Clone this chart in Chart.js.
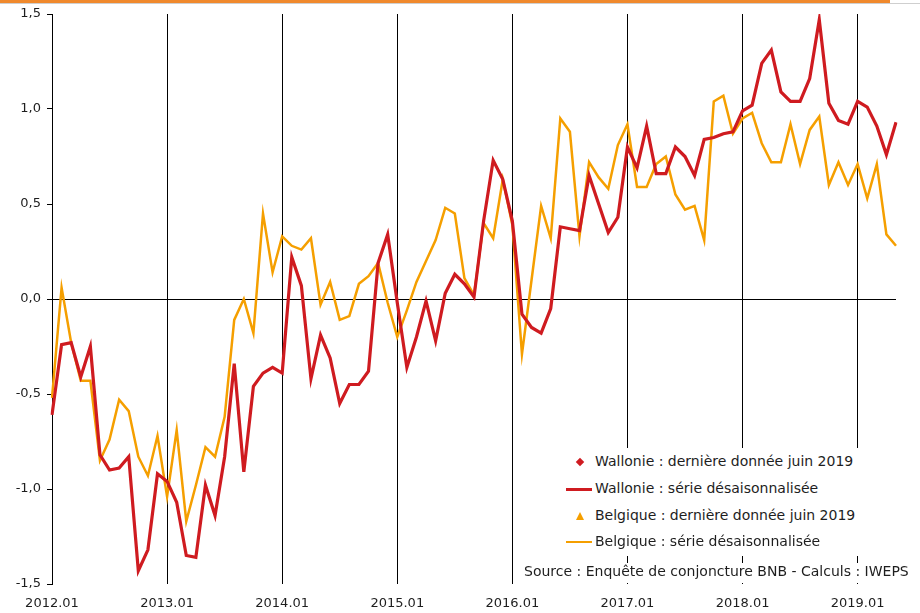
<!DOCTYPE html>
<html>
<head>
<meta charset="utf-8">
<script src="https://cdn.jsdelivr.net/npm/chart.js@4.4.1/dist/chart.umd.min.js"></script>
<style>
  body { margin: 0; background: #fff; font-family: "DejaVu Sans", sans-serif; }
  #wrap { position: relative; width: 920px; height: 613px; }
  #topbar { position: absolute; left: 0; top: 0; width: 890px; height: 3px; background: #f0892c; }
  #topline { position: absolute; left: 0; top: 3px; width: 920px; height: 1px; background: #cfcfcf; }
  #legend { position: absolute; left: 555px; top: 448px; width: 360px; height: 108px; background: #fff; }
  .row { position: absolute; left: 0; width: 360px; height: 20px; }
  .row span { position: absolute; left: 40px; top: 1px; font-size: 14px; color: #1e1e1e; white-space: nowrap; }
  .mk { position: absolute; }
  #source { position: absolute; left: 520px; top: 563px; width: 400px; height: 20px; background: #fff;
            font-size: 14px; color: #1e1e1e; white-space: nowrap; padding-left: 4px; box-sizing: border-box; }
</style>
</head>
<body>
<div id="wrap">
  <canvas id="chart" width="920" height="613"></canvas>
  <div id="topbar"></div>
  <div id="topline"></div>
  <div id="legend"></div>
  <div id="source">Source : Enquête de conjoncture BNB - Calculs : IWEPS</div>
</div>
<script>
// mois de 2012.01 a 2019.05
const years = ['2012', '2013', '2014', '2015', '2016', '2017', '2018', '2019'];
const monthCodes = ['01', '02', '03', '04', '05', '06', '07', '08', '09', '10', '11', '12'];
const lastMonth = 5;
const yTicks = [-1.5, -1.0, -0.5, 0, 0.5, 1.0, 1.5];

const labels = [];
years.forEach((y, i) => {
  const n = i === years.length - 1 ? lastMonth : 12;
  for (let m = 0; m < n; m++) labels.push(y + '.' + monthCodes[m]);
});

const wallonie = [
  -0.61, -0.24, -0.23, -0.41, -0.25, -0.82, -0.90, -0.89, -0.83, -1.43, -1.32, -0.92,
  -0.96, -1.07, -1.35, -1.36, -0.98, -1.14, -0.83, -0.34, -0.91, -0.46, -0.39, -0.36,
  -0.39, 0.22, 0.07, -0.42, -0.19, -0.31, -0.55, -0.45, -0.45, -0.38, 0.19, 0.34,
  -0.02, -0.36, -0.20, -0.01, -0.22, 0.03, 0.13, 0.08, 0.01, 0.41, 0.73, 0.63,
  0.41, -0.08, -0.15, -0.18, -0.05, 0.38, 0.37, 0.36, 0.65, 0.50, 0.35, 0.43,
  0.80, 0.69, 0.91, 0.66, 0.66, 0.80, 0.75, 0.65, 0.84, 0.85, 0.87, 0.88,
  0.99, 1.02, 1.24, 1.31, 1.09, 1.04, 1.04, 1.16, 1.47, 1.03, 0.94, 0.92,
  1.04, 1.01, 0.91, 0.76, 0.93
];

const belgique = [
  -0.52, 0.06, -0.23, -0.43, -0.43, -0.85, -0.74, -0.53, -0.59, -0.83, -0.93, -0.72,
  -1.04, -0.69, -1.17, -0.98, -0.78, -0.83, -0.62, -0.11, 0.00, -0.18, 0.45, 0.14,
  0.33, 0.28, 0.26, 0.32, -0.03, 0.09, -0.11, -0.09, 0.08, 0.12, 0.19, -0.02,
  -0.20, -0.06, 0.09, 0.20, 0.31, 0.48, 0.45, 0.11, 0.02, 0.40, 0.32, 0.63,
  0.39, -0.29, 0.10, 0.49, 0.32, 0.95, 0.88, 0.33, 0.72, 0.64, 0.58, 0.81,
  0.92, 0.59, 0.59, 0.71, 0.75, 0.55, 0.47, 0.49, 0.31, 1.04, 1.07, 0.87,
  0.95, 0.98, 0.82, 0.72, 0.72, 0.92, 0.71, 0.89, 0.96, 0.60, 0.72, 0.60,
  0.71, 0.53, 0.71, 0.34, 0.28
];

const RED = '#cf1b20';
const ORANGE = '#f59f00';
const empty = labels.map(() => null);

const datasets = [
  { label: 'Wallonie : dernière donnée juin 2019', data: empty, showLine: false,
    pointStyle: 'rectRot', pointRadius: 4, backgroundColor: RED, borderColor: RED, kind: 'point' },
  { label: 'Wallonie : série désaisonnalisée', data: wallonie, borderColor: RED,
    borderWidth: 3.2, pointRadius: 0, tension: 0, kind: 'line' },
  { label: 'Belgique : dernière donnée juin 2019', data: empty, showLine: false,
    pointStyle: 'triangle', pointRadius: 4, backgroundColor: ORANGE, borderColor: ORANGE, kind: 'point' },
  { label: 'Belgique : série désaisonnalisée', data: belgique, borderColor: ORANGE,
    borderWidth: 2.5, pointRadius: 0, tension: 0, kind: 'line' }
];

const tickFont = { family: 'DejaVu Sans', size: 13 };

const chart = new Chart(document.getElementById('chart'), {
  type: 'line',
  data: { labels: labels, datasets: datasets },
  options: {
    responsive: false,
    animation: false,
    layout: { padding: { left: 0, right: 24, top: 14, bottom: 0 } },
    plugins: { legend: { display: false }, tooltip: { enabled: false } },
    scales: {
      x: {
        type: 'category',
        offset: false,
        border: { display: false },
        grid: {
          drawTicks: false,
          lineWidth: 1,
          color: ctx => (ctx.tick && labels[ctx.tick.value] && labels[ctx.tick.value].endsWith('.01')) ? '#000' : 'rgba(0,0,0,0)'
        },
        ticks: {
          autoSkip: false,
          maxRotation: 0,
          padding: 12,
          color: '#1e1e1e',
          font: tickFont,
          callback: function (value) {
            const l = labels[value];
            return l.endsWith('.01') ? l : '';
          }
        },
        afterFit: scale => { scale.height = 29; }
      },
      y: {
        min: -1.5,
        max: 1.5,
        border: { display: true, color: '#000', width: 1 },
        grid: {
          drawTicks: true,
          tickLength: 5,
          tickColor: '#000',
          color: ctx => (ctx.tick && ctx.tick.value === 0) ? '#000' : 'rgba(0,0,0,0)'
        },
        afterBuildTicks: scale => { scale.ticks = yTicks.map(v => ({ value: v })); },
        ticks: {
          padding: 6,
          color: '#1e1e1e',
          font: tickFont,
          callback: v => v.toFixed(1).replace('.', ',')
        },
        afterFit: scale => { scale.width = 52; }
      }
    }
  }
});

// legende html
const legend = document.getElementById('legend');
const rowTops = [4, 31, 58, 84];
chart.data.datasets.forEach((ds, i) => {
  const row = document.createElement('div');
  row.className = 'row';
  row.style.top = rowTops[i] + 'px';
  const mk = document.createElement('div');
  mk.className = 'mk';
  if (ds.kind === 'line') {
    mk.style.left = '11px';
    mk.style.width = '26px';
    mk.style.height = ds.borderWidth > 3 ? '3px' : '2px';
    mk.style.top = '9px';
    mk.style.background = ds.borderColor;
  } else if (ds.pointStyle === 'rectRot') {
    mk.style.left = '22px';
    mk.style.top = '7px';
    mk.style.width = '6px';
    mk.style.height = '6px';
    mk.style.transform = 'rotate(45deg)';
    mk.style.background = ds.backgroundColor;
  } else {
    mk.style.left = '21px';
    mk.style.top = '6px';
    mk.style.width = '0';
    mk.style.height = '0';
    mk.style.borderLeft = '4px solid transparent';
    mk.style.borderRight = '4px solid transparent';
    mk.style.borderBottom = '8px solid ' + ds.backgroundColor;
  }
  const txt = document.createElement('span');
  txt.textContent = ds.label;
  row.appendChild(mk);
  row.appendChild(txt);
  legend.appendChild(row);
});
</script>
</body>
</html>
